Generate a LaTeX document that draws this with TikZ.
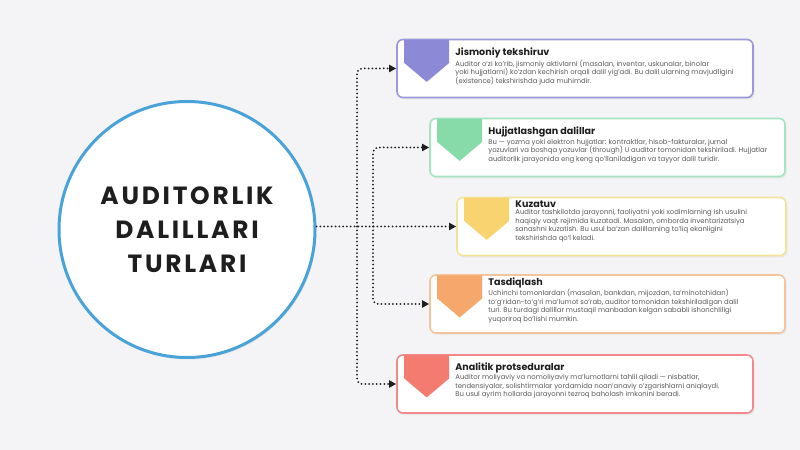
\documentclass[tikz,border=0pt]{standalone}
\usepackage{fontspec}
\setmainfont{Poppins}
\newfontfamily\headfont[LetterSpace=11]{Poppins}
\usetikzlibrary{arrows.meta,shadows}

\definecolor{bgray}{HTML}{F4F4F6}
\definecolor{ringblue}{HTML}{4AA3D8}
\definecolor{inkdark}{HTML}{1E1E1E}
\definecolor{inkbody}{HTML}{5A5A5A}
\definecolor{purpleline}{HTML}{9C98DA}
\definecolor{purpletab}{HTML}{8C8AD6}
\definecolor{greenline}{HTML}{A5E3C3}
\definecolor{greentab}{HTML}{86DBA9}
\definecolor{yellowline}{HTML}{F2E39A}
\definecolor{yellowtab}{HTML}{F8D36F}
\definecolor{orangeline}{HTML}{F6C49A}
\definecolor{orangetab}{HTML}{F5A76C}
\definecolor{redline}{HTML}{F3888B}
\definecolor{redtab}{HTML}{F47B70}

\tikzset{
  hub/.style={circle, draw=ringblue, line width=3bp, fill=white, minimum size=256bp,
    drop shadow={opacity=0.12, shadow xshift=1.5bp, shadow yshift=-2bp}},
  card/.style={draw=#1, line width=1.6bp, rounded corners=6bp, fill=white, minimum height=58bp,
    drop shadow={opacity=0.1, shadow xshift=1.5bp, shadow yshift=-2bp}},
  link/.style={draw=inkdark, line width=2bp, dash pattern=on 0bp off 3.8bp, line cap=round,
    rounded corners=5bp, -{Triangle[length=7bp,width=7bp]}},
  ttl/.style={inner sep=0, text=inkdark, font=\fontsize{9.6}{11}\selectfont\bfseries},
  body/.style={inner sep=0, text=inkbody, align=left, font=\fontsize{6.9}{8.5}\selectfont},
}

% tab on the top left of a card
\newcommand{\cardtab}[2]{%
  \fill[#2] ([xshift=8bp,yshift=-1.2bp]#1.north west) -- ++(45,0) -- ++(0,23) -- ++(-22.5,19) -- ++(-22.5,-19) -- cycle;}

\begin{document}
\begin{tikzpicture}[x=1bp,y=-1bp]
\fill[bgray] (0,0) rectangle (800,450);
\useasboundingbox (0,0) rectangle (800,450);

\node[hub, align=center, text=inkdark, font=\headfont\bfseries\fontsize{25}{34}\selectfont] (hub) at (187,229.5)
  {AUDITORLIK\\DALILLARI\\TURLARI};

\node[card=purpleline, minimum width=356bp] (c1) at (575,68.5) {};
\node[card=greenline, minimum width=355bp] (c2) at (607.5,147.5) {};
\node[card=yellowline, minimum width=329bp] (c3) at (621.5,226.5) {};
\node[card=orangeline, minimum width=355bp] (c4) at (607.5,304) {};
\node[card=redline, minimum width=356bp] (c5) at (575,384) {};

\cardtab{c1}{purpletab}
\cardtab{c2}{greentab}
\cardtab{c3}{yellowtab}
\cardtab{c4}{orangetab}
\cardtab{c5}{redtab}

\coordinate (j1) at (357,226.5);
\coordinate (j2) at (373,226.5);
\draw[link] (hub.east |- c3.west) -- (c3.west);
\draw[link] (j1) |- (c1.west);
\draw[link] (j1) |- (c5.west);
\draw[link] (j2) |- (c2.west);
\draw[link] (j2) |- (c4.west);

\node[ttl, anchor=north west] (t1) at ([xshift=59bp,yshift=-9bp]c1.north west) {Jismoniy tekshiruv};
\node[body, anchor=north west] (b1) at ([yshift=-1.5bp]t1.south west)
  {Auditor o'zi ko'rib, jismoniy aktivlarni (masalan, inventar, uskunalar, binolar\\
   yoki hujjatlarni) ko'zdan kechirish orqali dalil yig'adi. Bu dalil ularning mavjudligini\\
   (existence) tekshirishda juda muhimdir.};

\node[ttl, anchor=north west] (t2) at ([xshift=59bp,yshift=-9bp]c2.north west) {Hujjatlashgan dalillar};
\node[body, anchor=north west] (b2) at ([yshift=-1.5bp]t2.south west)
  {Bu --- yozma yoki elektron hujjatlar: kontraktlar, hisob-fakturalar, jurnal\\
   yozuvlari va boshqa yozuvlar (through) U auditor tomonidan tekshiriladi. Hujjatlar\\
   auditorlik jarayonida eng keng qo'llaniladigan va tayyor dalil turidir.};

\node[ttl, anchor=north west] (t3) at ([xshift=59bp,yshift=-4bp]c3.north west) {Kuzatuv};
\node[body, anchor=north west] (b3) at ([yshift=-1.5bp]t3.south west)
  {Auditor tashkilotda jarayonni, faoliyatni yoki xodimlarning ish usulini\\
   haqiqiy vaqt rejimida kuzatadi. Masalan, omborda inventarizatsiya\\
   sanashni kuzatish. Bu usul ba'zan dalillarning to'liq ekanligini\\
   tekshirishda qo'l keladi.};

\node[ttl, anchor=north west] (t4) at ([xshift=59bp,yshift=-3bp]c4.north west) {Tasdiqlash};
\node[body, anchor=north west] (b4) at ([yshift=-1.5bp]t4.south west)
  {Uchinchi tomonlardan (masalan, bankdan, mijozdan, ta'minotchidan)\\
   to'g'ridan-to'g'ri ma'lumot so'rab, auditor tomonidan tekshiriladigan dalil\\
   turi. Bu turdagi dalillar mustaqil manbadan kelgan sababli ishonchliligi\\
   yuqoriroq bo'lishi mumkin.};

\node[ttl, anchor=north west] (t5) at ([xshift=59bp,yshift=-8bp]c5.north west) {Analitik protseduralar};
\node[body, anchor=north west] (b5) at ([yshift=-1.5bp]t5.south west)
  {Auditor moliyaviy va nomoliyaviy ma'lumotlarni tahlil qiladi --- nisbatlar,\\
   tendensiyalar, solishtirmalar yordamida noan'anaviy o'zgarishlarni aniqlaydi.\\
   Bu usul ayrim hollarda jarayonni tezroq baholash imkonini beradi.};

\end{tikzpicture}
\end{document}
